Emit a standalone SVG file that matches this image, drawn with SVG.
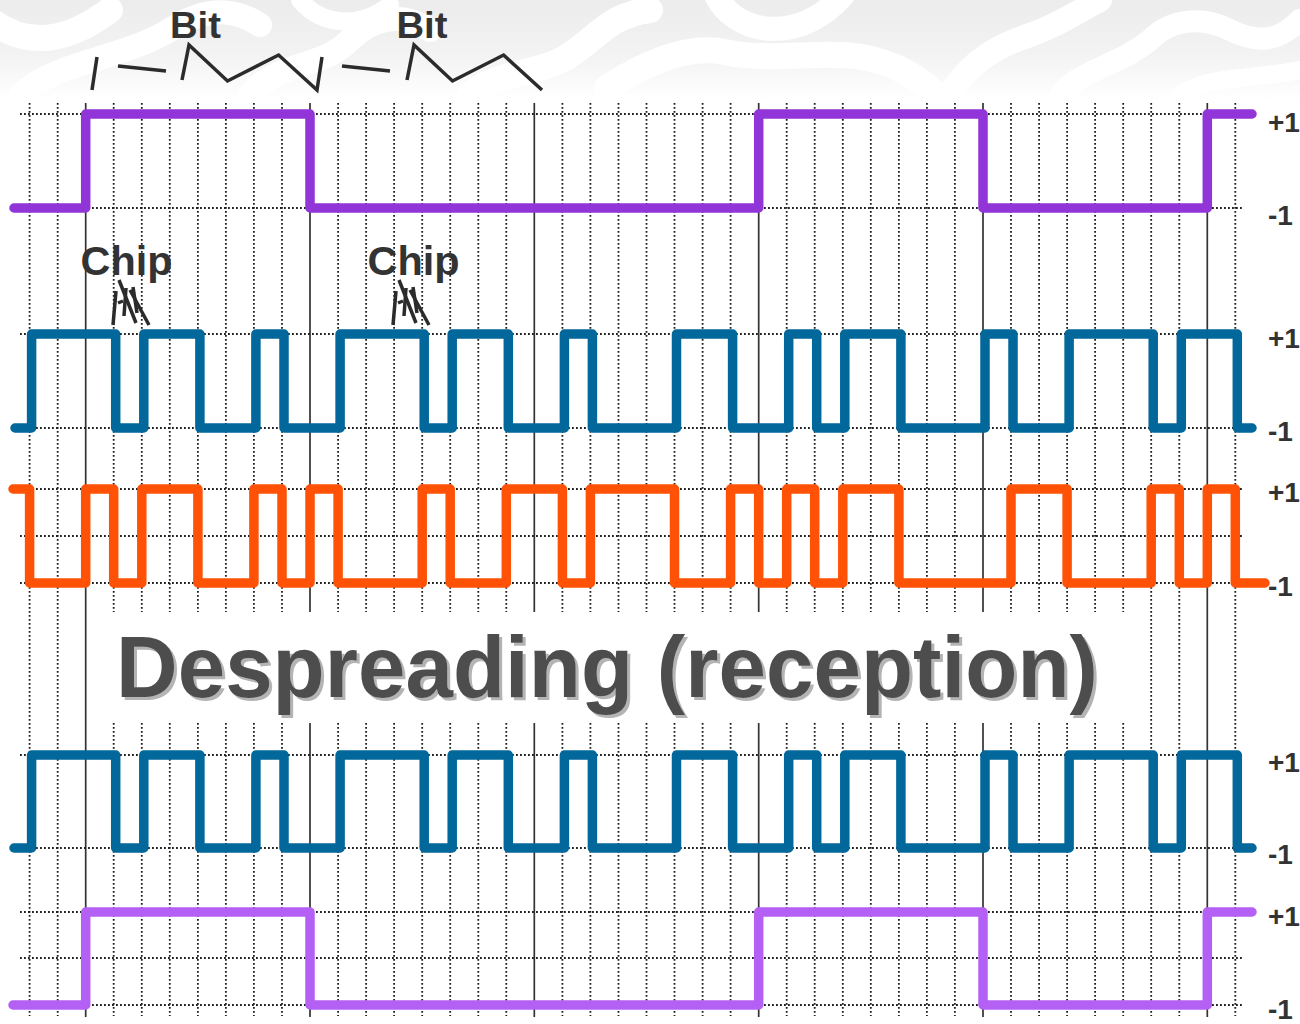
<svg xmlns="http://www.w3.org/2000/svg" width="1300" height="1024" viewBox="0 0 1300 1024">
  <defs>
    <linearGradient id="bgfade" x1="0" y1="0" x2="0" y2="1">
      <stop offset="0" stop-color="#ececec"/>
      <stop offset="0.55" stop-color="#f3f3f3"/>
      <stop offset="1" stop-color="#ffffff"/>
    </linearGradient>
    <filter id="shadow" x="-5%" y="-20%" width="110%" height="140%">
      <feFlood flood-color="#b4b4b4" result="c"/>
      <feComposite in="c" in2="SourceAlpha" operator="in" result="s"/>
      <feOffset in="s" dx="3" dy="3" result="o"/>
      <feMerge>
        <feMergeNode in="o"/>
        <feMergeNode in="SourceGraphic"/>
      </feMerge>
    </filter>
    <style>
      .dot { stroke: #1e1e1e; stroke-width: 1.8; stroke-dasharray: 1.8 2.2; fill: none; }
      .solid { stroke: #333333; stroke-width: 1.7; fill: none; }
      .wave { fill: none; stroke-width: 9.5; stroke-linecap: round; stroke-linejoin: round; }
      .purple1 { stroke: #9134d8; }
      .purple2 { stroke: #b460f5; }
      .blue { stroke: #02679a; }
      .orange { stroke: #ff5206; }
      .anno { stroke: #2b2b2b; stroke-width: 3.5; fill: none; stroke-linecap: butt; stroke-linejoin: miter; }
      .lbl { font-family: "Liberation Sans", Arial, sans-serif; font-weight: bold; fill: #333333; }
      .swirl { fill: none; stroke: #ffffff; stroke-linecap: round; }
    </style>
  </defs>

  <rect x="0" y="0" width="1300" height="1024" fill="#ffffff"/>

  <!-- decorative top background -->
  <g id="background">
    <rect x="0" y="0" width="1300" height="100" fill="url(#bgfade)"/>
    <path class="swirl" stroke-width="26" d="M-10,20 C30,50 70,40 110,10"/>
    <path class="swirl" stroke-width="24" d="M20,95 C60,60 120,60 170,30 C200,10 230,5 260,25"/>
    <path class="swirl" stroke-width="24" d="M250,95 C280,60 320,70 350,40 C370,20 400,10 430,30"/>
    <path class="swirl" stroke-width="18" d="M300,0 C320,25 360,30 390,5"/>
    <path class="swirl" stroke-width="26" d="M470,95 C500,70 540,75 570,55 C600,35 610,15 650,10"/>
    <path class="swirl" stroke-width="24" d="M716,-5 C735,35 800,45 843,-5"/>
    <path class="swirl" stroke-width="26" d="M607,88 C650,60 690,45 725,52 C770,62 820,50 862,57 C900,64 920,80 937,95"/>
    <path class="swirl" stroke-width="16" d="M560,57 C580,40 610,25 631,20"/>
    <path class="swirl" stroke-width="24" d="M950,95 C970,60 1000,45 1030,35 C1060,25 1080,10 1100,0"/>
    <path class="swirl" stroke-width="22" d="M1060,95 C1080,70 1120,65 1150,40 C1170,20 1200,15 1230,30 C1260,45 1280,40 1300,20"/>
    <path class="swirl" stroke-width="18" d="M1180,95 C1210,75 1250,80 1300,70"/>
  </g>

  <!-- grid -->
  <g id="grid">
    <g id="grid-vertical-dotted" class="dot">
      <path d="M29.6,103V1016 M57.7,103V1016"/>
      <path d="M113.7,103V1016 M141.8,103V1016 M169.8,103V1016 M197.9,103V1016 M225.9,103V1016 M253.9,103V1016 M282,103V1016"/>
      <path d="M338.1,103V1016 M366.1,103V1016 M394.1,103V1016 M422.2,103V1016 M450.2,103V1016 M478.3,103V1016 M506.3,103V1016"/>
      <path d="M562.4,103V1016 M590.4,103V1016 M618.5,103V1016 M646.5,103V1016 M674.5,103V1016 M702.6,103V1016 M730.6,103V1016"/>
      <path d="M786.7,103V1016 M814.7,103V1016 M842.8,103V1016 M870.8,103V1016 M898.9,103V1016 M926.9,103V1016 M954.9,103V1016"/>
      <path d="M1011,103V1016 M1039.1,103V1016 M1067.1,103V1016 M1095.1,103V1016 M1123.2,103V1016 M1151.2,103V1016 M1179.3,103V1016"/>
      <path d="M1235.3,103V1016"/>
    </g>
    <g id="grid-vertical-solid" class="solid">
      <path d="M85.7,103V1017 M310,103V1017 M534.3,103V1017 M758.7,103V1017 M983,103V1017 M1207.3,103V1017"/>
    </g>
    <g id="grid-horizontal-dotted" class="dot">
      <path d="M20,114H1243 M20,208H1243"/>
      <path d="M20,334H1243 M20,428H1243"/>
      <path d="M20,489H1243 M20,536H1243 M20,583H1243"/>
      <path d="M20,755H1243 M20,848H1243"/>
      <path d="M20,912H1243 M20,958H1243 M20,1005H1243"/>
    </g>
  </g>

  <!-- white panel behind the title -->
  <rect id="title-panel" x="88" y="612" width="1052" height="111" fill="#ffffff"/>

  <!-- waveforms -->
  <g id="waveforms">
    <path id="data-tx" class="wave purple1" d="M14,208 H85.7 V114 H310 V208 H758.7 V114 H983 V208 H1207.3 V114 H1252"/>
    <path id="code-tx" class="wave blue" d="M15,428 H31.6 V334 H115.7 V428 H143.8 V334 H199.9 V428 H255.9 V334 H284 V428 H340.1 V334 H424.2 V428 H452.2 V334 H508.3 V428 H564.4 V334 H592.4 V428 H676.5 V334 H732.6 V428 H788.7 V334 H816.7 V428 H844.8 V334 H900.9 V428 H985 V334 H1013 V428 H1069.1 V334 H1153.2 V428 H1181.3 V334 H1237.3 V428 H1252"/>
    <path id="received" class="wave orange" d="M13,489 H29.6 V583 H85.7 V489 H113.7 V583 H141.8 V489 H197.9 V583 H253.9 V489 H282 V583 H310 V489 H338.1 V583 H422.2 V489 H450.2 V583 H506.3 V489 H562.4 V583 H590.4 V489 H674.5 V583 H730.6 V489 H758.7 V583 H786.7 V489 H814.7 V583 H842.8 V489 H898.9 V583 H1011 V489 H1067.1 V583 H1151.2 V489 H1179.3 V583 H1207.3 V489 H1235.3 V583 H1265"/>
    <path id="code-rx" class="wave blue" d="M14,848 H31.6 V755 H115.7 V848 H143.8 V755 H199.9 V848 H255.9 V755 H284 V848 H340.1 V755 H424.2 V848 H452.2 V755 H508.3 V848 H564.4 V755 H592.4 V848 H676.5 V755 H732.6 V848 H788.7 V755 H816.7 V848 H844.8 V755 H900.9 V848 H985 V755 H1013 V848 H1069.1 V755 H1153.2 V848 H1181.3 V755 H1237.3 V848 H1252"/>
    <path id="data-rx" class="wave purple2" d="M13,1005 H85.7 V912 H310 V1005 H758.7 V912 H983 V1005 H1207.3 V912 H1252"/>
  </g>

  <!-- bit annotations -->
  <g id="bit-annotations">
    <g class="anno">
      <path d="M92,90 L97,57"/>
      <path d="M118,66 L166,71"/>
      <path d="M182,80 L189,45 L227.5,81 L278.6,55 L317,90 L322,57"/>
      <path d="M342,66 L390,71"/>
      <path d="M407,80 L414,45 L452.5,81 L503.6,55 L542,90"/>
    </g>
    <text class="lbl" x="195.5" y="38" font-size="36" text-anchor="middle" textLength="51" lengthAdjust="spacingAndGlyphs">Bit</text>
    <text class="lbl" x="422" y="38" font-size="36" text-anchor="middle" textLength="51" lengthAdjust="spacingAndGlyphs">Bit</text>
  </g>

  <!-- chip annotations -->
  <g id="chip-annotations">
    <text class="lbl" x="126.5" y="275" font-size="40" text-anchor="middle" textLength="92" lengthAdjust="spacingAndGlyphs">Chip</text>
    <text class="lbl" x="413.5" y="275" font-size="40" text-anchor="middle" textLength="92" lengthAdjust="spacingAndGlyphs">Chip</text>
    <g class="anno" stroke-width="3.5">
      <path d="M113,325 L116,291"/>
      <path d="M118,303 L123,301"/>
      <path d="M124,316 L126,288"/>
      <path d="M119,280 L136,323"/>
      <path d="M130,290 L149,325"/>
      <path d="M133,287 L137,313"/>
    </g>
    <g class="anno" stroke-width="3.5" transform="translate(280,0)">
      <path d="M113,325 L116,291"/>
      <path d="M118,303 L123,301"/>
      <path d="M124,316 L126,288"/>
      <path d="M119,280 L136,323"/>
      <path d="M130,290 L149,325"/>
      <path d="M133,287 L137,313"/>
    </g>
  </g>

  <!-- title -->
  <g id="title">
    <text x="116" y="697" font-family="'Liberation Sans', Arial, sans-serif" font-weight="bold" font-size="88" fill="#4d4d4d" textLength="982" lengthAdjust="spacingAndGlyphs" filter="url(#shadow)">Despreading (reception)</text>
  </g>

  <!-- level labels -->
  <g id="level-labels" class="lbl" font-size="28">
    <text x="1268" y="132">+1</text>
    <text x="1268" y="225">-1</text>
    <text x="1268" y="348">+1</text>
    <text x="1268" y="441">-1</text>
    <text x="1268" y="502">+1</text>
    <text x="1268" y="596">-1</text>
    <text x="1268" y="772">+1</text>
    <text x="1268" y="864">-1</text>
    <text x="1268" y="926">+1</text>
    <text x="1268" y="1019">-1</text>
  </g>
</svg>
